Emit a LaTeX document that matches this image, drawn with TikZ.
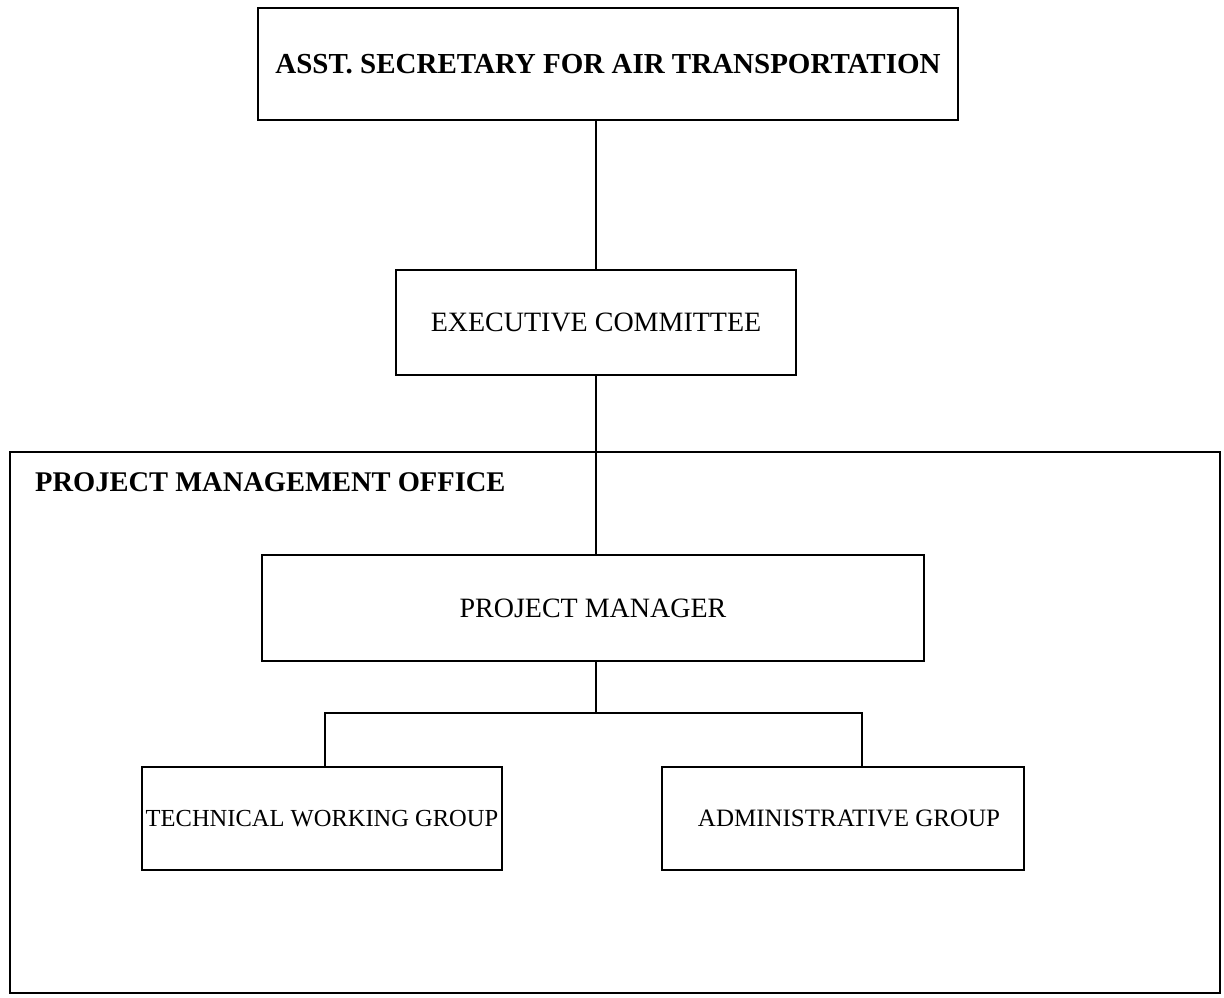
\documentclass[tikz,border=0pt]{standalone}
\usepackage{fontspec}
\setmainfont{Liberation Serif}
\begin{document}
\begin{tikzpicture}[x=1pt,y=-1pt,
  box/.style={draw,line width=1.6pt,inner sep=0pt,font=\fontsize{28}{34}\selectfont},
  conn/.style={line width=1.5pt}]
\useasboundingbox (0,0) rectangle (1224,997);
\node[draw,line width=1.6pt,minimum width=1210pt,minimum height=541pt,inner sep=0pt] (pmo) at (615,722.5) {};
\node[anchor=west,font=\fontsize{28.5}{34}\selectfont\bfseries,inner sep=0pt] (pmol) at (35,482) {PROJECT MANAGEMENT OFFICE};
\node[box,minimum width=700pt,minimum height=112pt,font=\fontsize{29}{34}\selectfont\bfseries] (top) at (608,64) {ASST. SECRETARY FOR AIR TRANSPORTATION};
\node[box,minimum width=400pt,minimum height=105pt] (exec) at (596,322.5) {EXECUTIVE COMMITTEE};
\node[box,minimum width=662pt,minimum height=106pt] (pm) at (593,608) {PROJECT MANAGER};
\node[box,line width=2.2pt,minimum width=360pt,minimum height=103pt,font=\fontsize{24.5}{30}\selectfont] (twg) at (322,818.5) {TECHNICAL WORKING GROUP};
\node[box,line width=2.2pt,minimum width=362pt,minimum height=103pt,font=\fontsize{25}{30}\selectfont] (ag) at (843,818.5) {\hspace*{12pt}ADMINISTRATIVE GROUP};
\coordinate (bl) at (325,713);
\coordinate (br) at (862,713);
\draw[conn] (exec.north) -- (exec.north |- top.south);
\draw[conn] (exec.south) -- (exec.south |- pm.north);
\draw[conn] (pm.south -| exec.south) -- (exec.south |- bl);
\draw[conn] (twg.north -| bl) -- (bl) -- (br) -- (br |- ag.north);
\end{tikzpicture}
\end{document}
